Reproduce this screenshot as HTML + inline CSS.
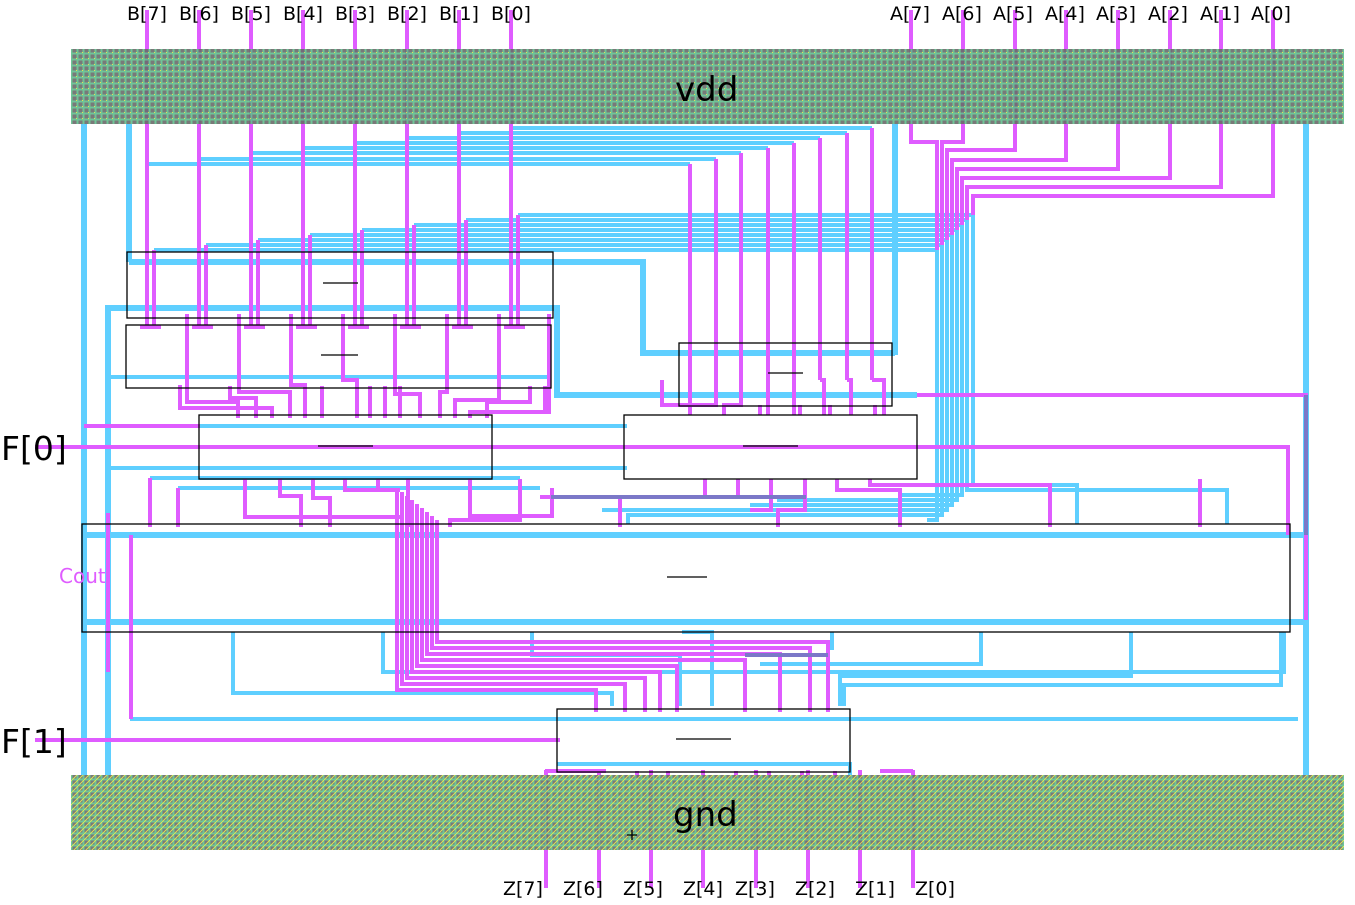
<!DOCTYPE html>
<html><head><meta charset="utf-8"><style>
html,body{margin:0;padding:0;background:#fff;width:1355px;height:905px;overflow:hidden}
svg{display:block}
text{font-family:"DejaVu Sans","Liberation Sans",sans-serif}
.b{stroke:#5fcfff;stroke-width:4;fill:none}
.bw{stroke:#5fcfff;stroke-width:6;fill:none}
.m{stroke:#df5cff;stroke-width:4;fill:none}
.k{stroke:#000;stroke-width:1.3;fill:none}
</style></head><body>
<svg width="1355" height="905" viewBox="0 0 1355 905" xmlns="http://www.w3.org/2000/svg">
<defs>
<pattern id="pv" width="6" height="6" patternUnits="userSpaceOnUse">
<rect width="6" height="6" fill="#5fbf8c"/><rect x="0.5" y="0.5" width="4" height="4" fill="#6a6a6a"/><rect x="4" y="4" width="1" height="1" fill="#e0e040"/>
</pattern>
<pattern id="pg" width="6" height="6" patternUnits="userSpaceOnUse">
<rect width="6" height="6" fill="#5fbf8c"/><rect x="0.5" y="0.5" width="4" height="4" fill="#6a6a6a"/><path d="M0 6 L6 0" stroke="#e8e83a" stroke-width="0.9"/>
</pattern>
</defs>

<!-- main blue verticals -->
<path class="bw" d="M84 124V775M108 305V775M129 124V262M1306 124V775M895 124V355"/>
<path class="bw" d="M129 262H643V353H895"/>
<path class="bw" d="M108 308H557V395H917"/>
<path class="b" d="M108 377H551"/>
<path class="bw" d="M84 535H1306M84 622H1306"/>
<path class="b" d="M84 426H627M108 468H627M150 478H520M178 488H540"/>
<path class="b" d="M130 719H1298M557 764H850V775"/>
<path class="b" d="M233 632V693H612V706M383 632V672H1284V632M532 632V655H680V706M682 632H712V706M832 632V650M981 632V664H760M1131 632V676H840V706M1281 632V685H844V706"/>

<!-- top B blue bus -->
<path class="b" d="M147 164H690M199 159H716M251 153H741M303 148H768M355 143H794M407 138H820M459 133H847M511 128H872"/>
<path class="b" d="M154 250H937M206 245H942M258 240H947M310 235H952M362 230H957M414 225H962M466 220H967M518 215H973"/>
<path class="b" d="M937 250V520H927M942 245V515H628V524M947 240V510H602M952 235V505H750M957 230V500H777M962 225V495H900M967 220V490H1227V524M973 215V485H1077V524"/>

<g class="m">
<path d="M147 10V327M199 10V327M251 10V327M303 10V327M355 10V327M407 10V327M459 10V327M511 10V327"/>
<path d="M154 250V327M206 245V327M258 240V327M310 235V327M362 230V327M414 225V327M466 220V327M518 215V327"/>
<path d="M140 327H161M192 327H213M244 327H265M296 327H317M348 327H369M400 327H421M452 327H473M504 327H525"/>
<path d="M187 314V402H238V418M239 314V392H290V418M291 314V385H305V418M343 314V380H357V418M395 314V394H420V418M447 314V392H440V418M499 314V400H455V418M549 314V412H470V418M180 385V408H272V418M230 386V398H256V418M322 386V418M370 386V418M385 386V418M400 386V418M530 386V402H487V418M545 386V412"/>
<path d="M690 164V380M716 159V380M741 153V380M768 148V380M794 143V380M820 138V380M847 133V380M872 128V380"/>
<path d="M690 380V415M716 380V405H690V415M741 380V405H724V415M768 380V415M794 380V415M820 380H824V415M847 380H851V415M872 380H884V415M662 380V405H710M760 405V415M800 405V415M830 405V415M875 405V415"/>
<path d="M911 10V142H937V250M963 10V142H942V245M1015 10V150H947V240M1066 10V160H952V235M1118 10V169H957V230M1170 10V178H962V225M1221 10V187H967V220M1273 10V196H973V215"/>
<path d="M35 447H1288V535M35 740H560M917 395H1306V620M84 426H200"/>
<path d="M108 513V672M131 535V719"/>
<path d="M150 478V527M178 488V527M280 479V496H301V527M313 479V498H330V527M345 479V490H400M378 479V490M408 479V527M520 479V520H450V527M705 479V497H540M738 479V497H620V527M771 479V510H750M805 479V510H778V527M837 479V490H900V527M870 479V485H1050V527M1200 479V527M1288 479V527"/>
<path d="M397 488V690H596V712M402 492V684H625V712M407 496V678H645V712M412 500V672H660V712M417 504V666H677V712M422 508V660H745V712M427 512V654H780V712M432 516V648H810V712M437 520V642H828V712"/>
<path d="M245 479V517H400M470 479V516H552V488"/>
<path d="M546 770V888M599 770V888M651 770V888M703 770V888M756 770V888M808 770V888M860 770V888M913 770V888M545 771H606M880 771H913"/>
<path d="M637 771V778M668 771V778M703 771V778M736 771V778M769 771V778M802 771V778M835 771V778"/>
</g>
<path d="M551 497H806M745 655H828" stroke="#7b78c8" stroke-width="4" fill="none"/>
<path d="M1306 395V535" stroke="#7b78c8" stroke-width="4"/>

<!-- rails drawn over pins -->
<rect x="71" y="49" width="1273" height="75" fill="url(#pv)" opacity="0.9"/>
<rect x="71" y="775" width="1273" height="75" fill="url(#pg)" opacity="0.9"/>

<rect class="k" x="127" y="252" width="426" height="66"/>
<rect class="k" x="126" y="325" width="425" height="63"/>
<rect class="k" x="199" y="415" width="293" height="64"/>
<rect class="k" x="679" y="343" width="213" height="63"/>
<rect class="k" x="624" y="415" width="293" height="64"/>
<rect class="k" x="82" y="524" width="1208" height="108"/>
<rect class="k" x="557" y="709" width="293" height="63"/>
<path class="k" d="M323 283H358M321 355H358M318 446H373M768 373H803M743 446H798M667 577H707M676 739H731M627 835H637M632 830V840"/>

<g font-size="19" fill="#000">
<text x="127" y="20">B[7]</text><text x="179" y="20">B[6]</text><text x="231" y="20">B[5]</text><text x="283" y="20">B[4]</text><text x="335" y="20">B[3]</text><text x="387" y="20">B[2]</text><text x="439" y="20">B[1]</text><text x="491" y="20">B[0]</text>
<text x="890" y="20">A[7]</text><text x="942" y="20">A[6]</text><text x="993" y="20">A[5]</text><text x="1045" y="20">A[4]</text><text x="1096" y="20">A[3]</text><text x="1148" y="20">A[2]</text><text x="1200" y="20">A[1]</text><text x="1251" y="20">A[0]</text>
<text x="503" y="895">Z[7]</text><text x="563" y="895">Z[6]</text><text x="623" y="895">Z[5]</text><text x="683" y="895">Z[4]</text><text x="735" y="895">Z[3]</text><text x="795" y="895">Z[2]</text><text x="855" y="895">Z[1]</text><text x="915" y="895">Z[0]</text>
</g>
<text x="675" y="101" font-size="34" fill="#000">vdd</text>
<text x="673" y="826" font-size="34" fill="#000">gnd</text>
<text x="1" y="460" font-size="33" fill="#000">F[0]</text>
<text x="1" y="753" font-size="33" fill="#000">F[1]</text>
<text x="59" y="583" font-size="20" fill="#df5cff">Cout</text>
</svg>
</body></html>
